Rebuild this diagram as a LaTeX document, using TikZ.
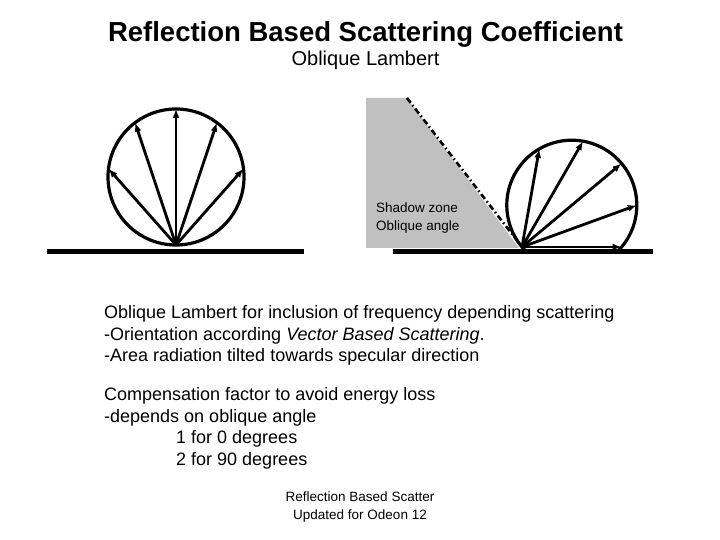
\documentclass[tikz,border=0pt]{standalone}
\usepackage{fontspec}
\setmainfont{Liberation Sans}
\usepackage{tikz}
\usepackage{xcolor}
\usetikzlibrary{arrows.meta}
\definecolor{shadowgrey}{HTML}{C0C0C0}
\tikzset{
    ground-line/.style = {line width=5pt},
    lobe-circle/.style = {draw=black, line width=3.2pt},
    ray-arrow/.style = {line width=2.8pt, -{Latex[length=9pt,width=7pt]}},
    shadow-zone/.style = {fill=shadowgrey, draw=none},
    oblique-line/.style = {line width=2.6pt, dash pattern=on 6pt off 3pt on 1.5pt off 3pt},
    body-text/.style = {anchor=base west, inner sep=0pt, font=\fontsize{18}{21.5}\selectfont},
    small-text/.style = {inner sep=0pt, font=\fontsize{13.5}{16}\selectfont},
}

\begin{document}
\begin{tikzpicture}[x=1pt, y=1pt]
\useasboundingbox (0,0) rectangle (720,540);
% headings
\node[anchor=base, inner sep=0pt, font=\fontsize{27.5}{32}\selectfont\bfseries] (title) at (365.5,498) {Reflection Based Scattering Coefficient};
\node[anchor=base, inner sep=0pt, font=\fontsize{20}{24}\selectfont] (subtitle) at (365.5,474) {Oblique Lambert};

% shadow zone
\coordinate (left-origin) at (176,295);
\coordinate (left-centre) at (176,363);
\coordinate (right-origin) at (522,293);
\coordinate (shadow-top) at (407,442);
\fill[shadow-zone] (366,442) -- (shadow-top) -- (519,292) -- (366,292) -- cycle;
\draw[oblique-line] (shadow-top) -- (right-origin);
\node[small-text, anchor=base west] (shadow-label) at (376,327.3) {Shadow zone};
\node[small-text, anchor=base west] (angle-label) at (376,309.3) {Oblique angle};

% normal Lambert
\draw[lobe-circle] (left-centre) circle[radius=68];
\foreach \a in {7,53,90,127,173}
    \draw[ray-arrow] (left-origin) -- ([shift={(\a:68)}]left-centre);

% oblique Lambert, only above the ground
\coordinate (right-centre) at ([shift={(40:65)}]right-origin);
\begin{scope}
\clip (0,290) rectangle (720,540);
\draw[lobe-circle] (right-centre) circle[radius=65];
\end{scope}
\foreach \a in {-40,0,40,80,120}
    \draw[ray-arrow] (right-origin) -- ([shift={(\a:65)}]right-centre);

% ground lines
\coordinate (left-ground-a) at (47,288);
\coordinate (left-ground-b) at (304,288);
\coordinate (right-ground-a) at (393,288);
\coordinate (right-ground-b) at (653,288);
\draw[ground-line] (left-ground-a) -- (left-ground-b);
\draw[ground-line] (right-ground-a) -- (right-ground-b);

% description
\node[body-text] (line-a) at (104,221) {Oblique Lambert for inclusion of frequency depending scattering};
\node[body-text] (line-b) at (104,199.5) {-Orientation according \textit{Vector Based Scattering}.};
\node[body-text] (line-c) at (104,178) {-Area radiation tilted towards specular direction};
\node[body-text] (line-d) at (104,139) {Compensation factor to avoid energy loss};
\node[body-text] (line-e) at (104,117.5) {-depends on oblique angle};
\node[body-text] (line-f) at (176,96) {1 for 0 degrees};
\node[body-text] (line-g) at (176,74.5) {2 for 90 degrees};

% footer
\node[small-text, anchor=base] (footer-a) at (360,38.3) {Reflection Based Scatter};
\node[small-text, anchor=base] (footer-b) at (360,20.7) {Updated for Odeon 12};
\end{tikzpicture}
\end{document}
